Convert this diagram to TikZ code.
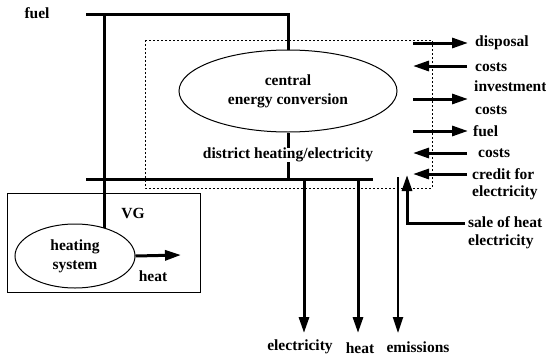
\documentclass[tikz,border=0pt]{standalone}
\usepackage{fontspec}
\setmainfont{Liberation Serif}[BoldFont={Liberation Serif Bold}]
\usetikzlibrary{arrows.meta,shapes.geometric}
\begin{document}
\begin{tikzpicture}[x=1pt,y=-1pt,
  every node/.style={font=\fontsize{15.5}{17}\selectfont\bfseries, inner sep=0pt},
  thickline/.style={line width=3pt},
  flow/.style={line width=3pt,-{Triangle[length=16pt,width=10pt]}},
  thinflow/.style={line width=2.2pt,-{Triangle[length=16pt,width=10pt]}},
  lbl/.style={anchor=west},
  oval/.style={ellipse,draw,line width=1pt,align=center}
]
\useasboundingbox (0,0) rectangle (546,359);

% dotted system boundary
\draw[line width=1pt,dash pattern=on 2pt off 2pt] (145,40) rectangle (432,188);
% VG box
\draw[line width=1pt] (7,193) rectangle (200,292);

% nodes
\node (fuellbl) at (37,13) {fuel};
\node[oval,minimum width=218pt,minimum height=82pt] (cec) at (288,91) {central\\[2pt]energy conversion};
\node (dh) at (288,155) {district heating/electricity};
\node (vg) at (133,213) {VG};
\node[oval,minimum width=120pt,minimum height=64pt] (hs) at (75,256) {heating\\[2pt]system};
\node (heatlbl) at (153,276) {heat};

\node (elec) at (300,347) {electricity};
\node (heatout) at (360,348) {heat};
\node (emis) at (418,347) {emissions};

\node[lbl] (disp) at (475,43) {disposal};
\node[lbl] (c1) at (475,67) {costs};
\node[lbl] (inv) at (474,86) {investment};
\node[lbl] (c2) at (475,110) {costs};
\node[lbl] (fu) at (473,131) {fuel};
\node[lbl] (c3) at (478,153) {costs};
\node[lbl] (cr) at (472,174) {credit for};
\node[lbl] (cre) at (472,193) {electricity};
\node[lbl] (sale) at (468,222) {sale of heat};
\node[lbl] (salee) at (468,242) {electricity};

% coordinates
\coordinate (fs) at (86,14);
\coordinate (fj) at (104,14);
\coordinate (fe) at (288,14);
\coordinate (bs) at (86,179);
\coordinate (be) at (373,179);
\coordinate (bj) at (288,179);
\coordinate (eS) at (304,179);
\coordinate (eT) at (304,333);
\coordinate (hS) at (358,179);
\coordinate (hT) at (358,333);
\coordinate (mS) at (398,177);
\coordinate (mT) at (398,333);
\coordinate (hsT) at (181,255);

% fuel supply
\draw[thickline] (fs) -- (fe) -- (cec.north);
\draw[thickline] (fj) -- (fj |- hs.44);
% district heating
\draw[thickline] (cec.south) -- (dh.north);
\draw[thickline] (dh.south) -- (bj);
\draw[thickline] (bs) -- (be);
% outputs
\draw[flow] (eS) -- (eT);
\draw[flow] (hS) -- (hT);
\draw[thinflow] (mS) -- (mT);
\draw[flow] (hs.east) -- (hsT);

% right side money flows
\coordinate (a1s) at (413,43);  \coordinate (a1e) at (468,43);
\coordinate (a2s) at (467,66);  \coordinate (a2e) at (413,66);
\coordinate (a3s) at (413,99);  \coordinate (a3e) at (468,99);
\coordinate (a4s) at (413,131); \coordinate (a4e) at (468,131);
\coordinate (a5s) at (467,153); \coordinate (a5e) at (413,153);
\coordinate (a6s) at (467,174); \coordinate (a6e) at (413,174);
\draw[flow] (a1s) -- (a1e);
\draw[flow] (a2s) -- (a2e);
\draw[flow] (a3s) -- (a3e);
\draw[flow] (a4s) -- (a4e);
\draw[flow] (a5s) -- (a5e);
\draw[flow] (a6s) -- (a6e);

\coordinate (sS) at (465,223);
\coordinate (sC) at (407,223);
\coordinate (sT) at (407,175);
\draw[flow] (sS) -- (sC) -- (sT);
\end{tikzpicture}
\end{document}
